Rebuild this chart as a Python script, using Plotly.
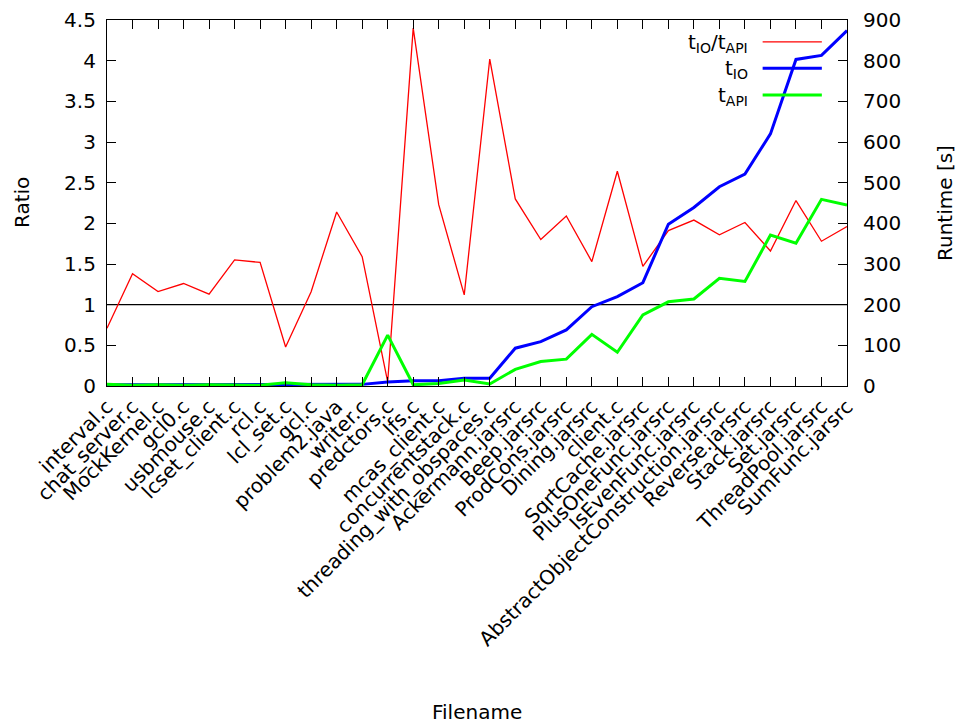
import plotly.graph_objects as go

# Benchmark files, in plotting order
filenames = [
    "interval.c", "chat_server.c", "MockKernel.c", "gcl0.c", "usbmouse.c",
    "lcset_client.c", "rcl.c", "lcl_set.c", "gcl.c", "problem2.java",
    "writer.c", "predctors.c", "lfs.c", "mcas_client.c", "concurrentstack.c",
    "threading_with_obspaces.c", "Ackermann.jarsrc", "Beep.jarsrc",
    "ProdCons.jarsrc", "Dining.jarsrc", "client.c", "SqrtCache.jarsrc",
    "PlusOneFunc.jarsrc", "IsEvenFunc.jarsrc",
    "AbstractObjectConstruction.jarsrc", "Reverse.jarsrc", "Stack.jarsrc",
    "Set.jarsrc", "ThreadPool.jarsrc", "SumFunc.jarsrc",
]

# Ratio t_IO / t_API (left axis)
ratio = [
    0.71, 1.38, 1.16, 1.26, 1.13, 1.55, 1.52, 0.48, 1.16, 2.14,
    1.59, 0.05, 4.40, 2.23, 1.12, 4.02, 2.30, 1.80, 2.09, 1.53,
    2.64, 1.47, 1.91, 2.04, 1.86, 2.01, 1.66, 2.28, 1.78, 1.96,
]

# Runtimes in seconds (right axis)
t_io = [
    3, 3, 3, 3, 3, 3, 3, 3, 4, 4,
    4, 10, 13, 13, 19, 19, 93, 109, 138, 195,
    220, 254, 398, 439, 490, 521, 620, 803, 813, 874,
]
t_api = [
    4, 2, 3, 2, 3, 2, 2, 8, 3, 2,
    3, 125, 3, 6, 15, 5, 41, 60, 66, 127,
    83, 175, 207, 214, 265, 257, 371, 351, 459, 445,
]

ratio_ticks = [0, 0.5, 1, 1.5, 2, 2.5, 3, 3.5, 4, 4.5]
runtime_ticks = [0, 100, 200, 300, 400, 500, 600, 700, 800, 900]

FONT = "DejaVu Sans"
FS = 20

fig = go.Figure()
fig.add_trace(go.Scatter(
    x=filenames, y=ratio, mode="lines", name="t<sub>IO</sub>/t<sub>API</sub>",
    line=dict(color="#ff0000", width=1.3), yaxis="y", showlegend=False,
))
fig.add_trace(go.Scatter(
    x=filenames, y=t_io, mode="lines", name="t<sub>IO</sub>",
    line=dict(color="#0000ff", width=3), yaxis="y2", showlegend=False,
))
fig.add_trace(go.Scatter(
    x=filenames, y=t_api, mode="lines", name="t<sub>API</sub>",
    line=dict(color="#00ff00", width=3), yaxis="y2", showlegend=False,
))

# Reference line at ratio = 1
fig.add_shape(type="line", xref="paper", x0=0, x1=1, yref="y", y0=1, y1=1,
              line=dict(color="black", width=1.2), layer="below")

# Key in the upper right: right-aligned labels with line samples
key = [
    ("t<sub>IO</sub>/t<sub>API</sub>", "#ff0000", 1.3, 0.940),
    ("t<sub>IO</sub>", "#0000ff", 3, 0.868),
    ("t<sub>API</sub>", "#00ff00", 3, 0.795),
]
for label, color, width, yk in key:
    fig.add_annotation(x=0.869, y=yk, xref="paper", yref="paper", text=label,
                       showarrow=False, xanchor="right", yanchor="middle",
                       yshift=-1, font=dict(family=FONT, size=FS, color="black"))
    fig.add_shape(type="line", xref="paper", yref="paper", x0=0.886, x1=0.966,
                  y0=yk, y1=yk, line=dict(color=color, width=width))

# Axis titles
fig.add_annotation(x=22, y=0.5, xref="paper", yref="paper", text="Ratio",
                   showarrow=False, textangle=-90,
                   font=dict(family=FONT, size=FS, color="black"))
fig.add_annotation(x=0.5, y=0, xref="paper", yref="paper", text="Filename",
                   showarrow=False,
                   font=dict(family=FONT, size=FS, color="black"))
fig.layout.annotations[-2].update(x=(22 - 107) / 740, xanchor="center")
fig.layout.annotations[-1].update(y=-(712 - 386) / 366, yanchor="middle")
fig.add_annotation(x=(945 - 107) / 740, y=0.5, xref="paper", yref="paper",
                   text="Runtime [s]", showarrow=False, textangle=-90,
                   xanchor="center",
                   font=dict(family=FONT, size=FS, color="black"))

fig.update_layout(
    width=962, height=726,
    margin=dict(l=107, r=115, t=20, b=340, autoexpand=False),
    paper_bgcolor="white", plot_bgcolor="white",
    font=dict(family=FONT, size=FS, color="black"),
    xaxis=dict(
        type="category", range=[0, len(filenames) - 1],
        tickangle=-45, ticks="inside", ticklen=9, tickcolor="black",
        showline=True, linecolor="black", linewidth=1.2, mirror="ticks",
        showgrid=False, zeroline=False, automargin=False,
        tickfont=dict(family=FONT, size=FS, color="black"),
    ),
    yaxis=dict(
        range=[0, 4.5], tickvals=ratio_ticks, ticks="inside", ticklen=9,
        tickcolor="black", showline=True, linecolor="black", linewidth=1.2,
        mirror=True, showgrid=False, zeroline=False, automargin=False,
        ticklabelstandoff=6,
        tickfont=dict(family=FONT, size=FS, color="black"),
    ),
    yaxis2=dict(
        range=[0, 900], tickvals=runtime_ticks, overlaying="y", side="right",
        ticks="inside", ticklen=9, tickcolor="black", showline=True,
        linecolor="black", linewidth=1.2, showgrid=False, zeroline=False,
        automargin=False, ticklabelstandoff=11,
        tickfont=dict(family=FONT, size=FS, color="black"),
    ),
)

fig.write_html("out.html")
